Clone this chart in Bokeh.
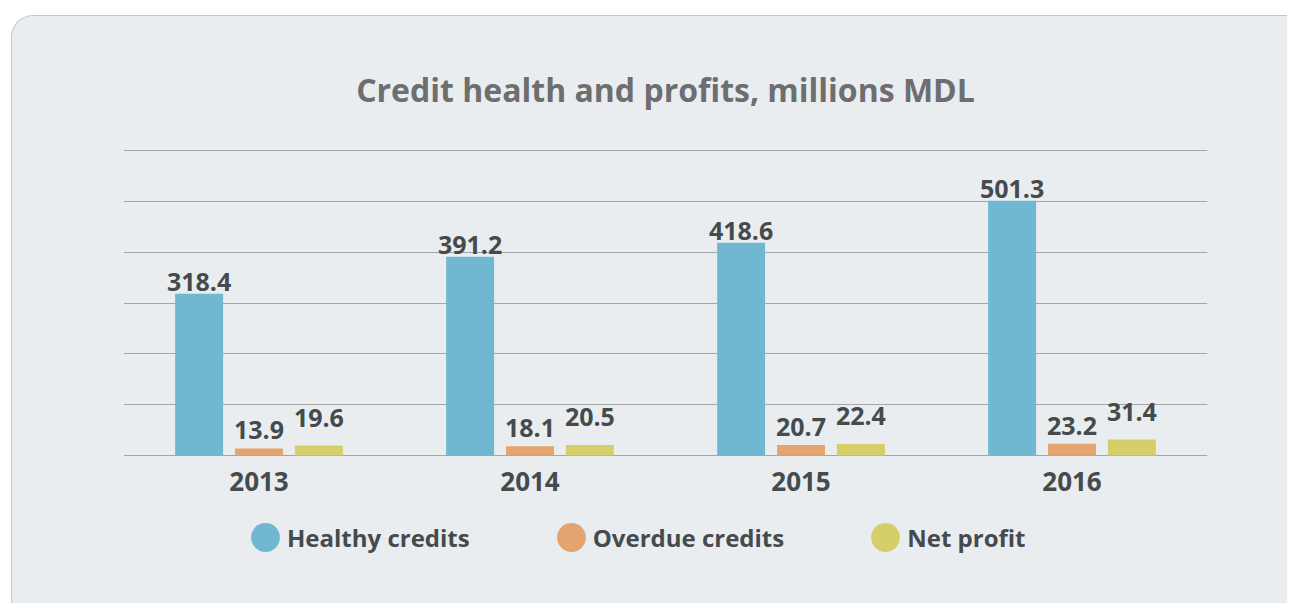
from bokeh.plotting import figure
from bokeh.models import (ColumnDataSource, FactorRange, Range1d, FixedTicker,
                          Legend, LegendItem, Title)
from bokeh.transform import dodge
from bokeh.core.properties import value
from bokeh.embed import file_html
from bokeh.resources import INLINE

years = ["2013", "2014", "2015", "2016"]
healthy = [318.4, 391.2, 418.6, 501.3]
overdue = [13.9, 18.1, 20.7, 23.2]
net_profit = [19.6, 20.5, 22.4, 31.4]
series_names = ["Healthy credits", "Overdue credits", "Net profit"]
colors = ["#70b8d2", "#e4a46f", "#d6cf69"]
y_ticks = [0, 100, 200, 300, 400, 500, 600]
title_text = "Credit health and profits, millions MDL"

FONT = "Open Sans"
TEXT_COLOR = "#454a4d"

W, H = 1276, 588
FL, FR, FT, FB = 111, 81, 130, 29
# frame spans page y 146..575; value 0 sits at page y 455, value 600 at page y 150
PX_PER_UNIT = 305 / 600
Y_MIN = -(575 - 455) / PX_PER_UNIT
Y_MAX = (455 - 146) / PX_PER_UNIT

p = figure(x_range=FactorRange(*years, range_padding=0), y_range=Range1d(Y_MIN, Y_MAX),
           width=W, height=H, output_backend="svg", toolbar_location=None,
           min_border_left=FL, min_border_right=FR, min_border_top=FT, min_border_bottom=FB,
           border_fill_color=None, background_fill_color=None, outline_line_color=None,
           styles={"border-top": "1px solid #bec8d0", "border-left": "1px solid #bec8d0",
                   "border-top-left-radius": "22px",
                   "background-color": "#e9edf0", "margin-left": "11px", "margin-top": "15px"})

p.add_layout(Title(text=title_text, align="center", standoff=72,
                   text_font=FONT, text_font_style="bold", text_font_size="32px",
                   text_color="#6d6e70"), "above")

src = ColumnDataSource(dict(year=years, healthy=healthy, overdue=overdue, net=net_profit,
                            zero=[0] * len(years),
                            healthy_lbl=[f"{v:.1f}" for v in healthy],
                            overdue_lbl=[f"{v:.1f}" for v in overdue],
                            net_lbl=[f"{v:.1f}" for v in net_profit]))

offsets = [-0.221, 0.0, 0.221]
fields = ["healthy", "overdue", "net"]
label_offsets = [-12, -18, -28]
for f, off, c, lo in zip(fields, offsets, colors, label_offsets):
    p.vbar(x=dodge("year", off, range=p.x_range), top=f, width=0.177, source=src,
           fill_color=c, line_color=None)
    p.text(x=dodge("year", off, range=p.x_range), y=f, text=f + "_lbl", source=src,
           text_align="center", text_baseline="alphabetic", y_offset=lo,
           text_font=value(FONT), text_font_style="bold", text_font_size="25px",
           text_color=TEXT_COLOR)

# category (year) labels under the baseline
p.text(x="year", y="zero", text="year", source=src, text_align="center",
       text_baseline="alphabetic", y_offset=26, text_font=value(FONT),
       text_font_style="bold", text_font_size="26px", text_color=TEXT_COLOR)

# legend markers (off-range points; only their legend glyphs are visible)
items = []
for name, c in zip(series_names, colors):
    r = p.ellipse(x=[years[0]], y=[-10000], width=29, height=29,
                  width_units="screen", height_units="screen",
                  fill_color=c, line_color=None)
    items.append(LegendItem(label=name, renderers=[r]))

legend = Legend(items=items, orientation="horizontal", location=(124, 20),
                glyph_width=36, glyph_height=36, label_standoff=4, spacing=83,
                padding=0, margin=0, background_fill_alpha=0, border_line_color=None,
                label_text_font=FONT, label_text_font_style="bold",
                label_text_font_size="24px", label_text_color=TEXT_COLOR)
p.add_layout(legend, "center")

p.xaxis.visible = False
p.yaxis.visible = False
p.ygrid.ticker = FixedTicker(ticks=y_ticks)
p.ygrid.grid_line_color = "#a2a6a9"
p.ygrid.grid_line_width = 1.2
p.xgrid.grid_line_color = None

open("out.html", "w").write(file_html(p, INLINE))
